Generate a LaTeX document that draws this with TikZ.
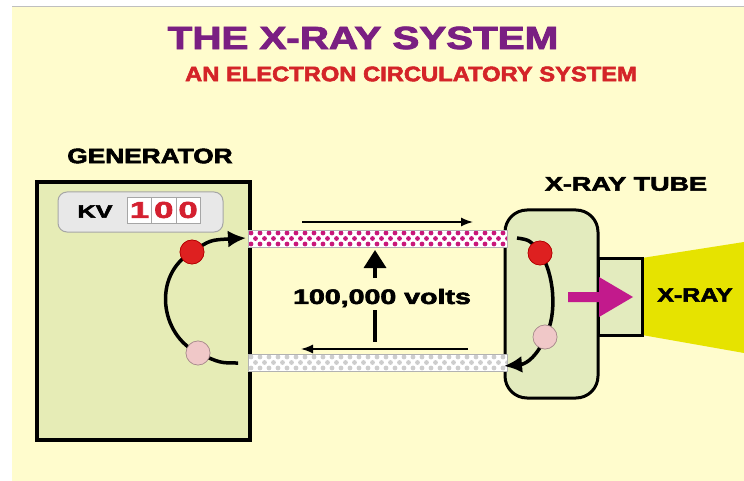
\documentclass[tikz,border=0pt]{standalone}
\usepackage{fontspec}
\usepackage{graphicx}
\usetikzlibrary{arrows.meta}
\newfontfamily\hv{Liberation Sans Bold}[FakeBold=2.5]
\newcommand{\wt}[3]{\scalebox{#1}[1]{\hv\fontsize{#2}{#2}\selectfont #3}}
\definecolor{bgyel}{HTML}{FFFCCD}
\definecolor{boxgreen}{HTML}{E6ECB6}
\definecolor{tubegreen}{HTML}{E3EBBE}
\definecolor{beamyel}{HTML}{E6E300}
\definecolor{ttlpurple}{HTML}{7A1F82}
\definecolor{subred}{HTML}{D42428}
\definecolor{dotmag}{HTML}{C8187A}
\definecolor{dotgrey}{HTML}{CDCDCD}
\definecolor{redball}{HTML}{DE2020}
\definecolor{pinkball}{HTML}{F0C8C8}
\definecolor{magarrow}{HTML}{C21A8C}
\definecolor{kvgrey}{HTML}{E8E8E8}
\definecolor{digred}{HTML}{D42030}
\tikzset{
  wire/.style={line width=3.5pt, black},
  thinarrow/.style={line width=1.5pt, -{Latex[length=12pt,width=9pt]}},
  redball/.style={circle, minimum size=24pt, inner sep=0pt, fill=redball, draw=red!70!black, line width=0.6pt},
  pinkball/.style={circle, minimum size=24pt, inner sep=0pt, fill=pinkball, draw=pinkball!70!black, line width=0.6pt},
  cell/.style={draw=gray!70, fill=white, line width=0.6pt, minimum width=24.3pt, minimum height=26pt, inner sep=0pt},
  txt/.style={inner sep=0pt, outer sep=0pt, anchor=center}
}
\begin{document}
\begin{tikzpicture}[x=1pt, y=-1pt]
\useasboundingbox (0,0) rectangle (744,481);
\fill[white] (0,0) rectangle (744,481);
\fill[bgyel] (12,6) rectangle (744,481);
\draw[gray!50, line width=0.8pt] (12,6) -- (744,6);

% titles
\node[txt, text=ttlpurple] (title) at (363,38) {\wt{1.26}{32}{THE X-RAY SYSTEM}};
\node[txt, text=subred] (subtitle) at (411,74) {\wt{1.13}{21}{AN ELECTRON CIRCULATORY SYSTEM}};
\node[txt] (genlabel) at (150,156) {\wt{1.25}{21}{GENERATOR}};
\node[txt] (tubelabel) at (626,184) {\wt{1.38}{19.5}{X-RAY TUBE}};

% generator
\draw[line width=3.5pt, fill=boxgreen] (37,182) rectangle (250,440);
\node[draw=gray!70, fill=kvgrey, rounded corners=9pt, line width=1pt, minimum width=165pt, minimum height=40pt, inner sep=0pt] (kvbox) at (140.5,212) {};
\node[txt] (kv) at (95,211.5) {\wt{1.4}{18}{KV}};
\node[cell] (c1) at (139.5,210) {};
\node[cell] (c2) at (163.8,210) {};
\node[cell] (c3) at (188.1,210) {};
\node[txt, text=digred] (d1) at (c1) {\wt{1.5}{23}{1}};
\node[txt, text=digred] (d2) at (c2) {\wt{1.5}{23}{0}};
\node[txt, text=digred] (d3) at (c3) {\wt{1.5}{23}{0}};

% x-ray beam and tube
\fill[beamyel] (642,258) -- (744,242) -- (744,353) -- (642,335) -- cycle;
\draw[line width=3pt, fill=tubegreen] (598,258) rectangle (642,335);
\draw[line width=3pt, fill=tubegreen, rounded corners=22pt] (505,210) rectangle (598,398);
\node[txt] (xray) at (695,295) {\wt{1.28}{19.5}{X-RAY}};

% conductors
\begin{scope}
  \clip (248,230) rectangle (507,247);
  \fill[white] (248,230) rectangle (507,247);
  \foreach \i in {0,...,28} {
    \fill[dotmag] (251+9*\i,233) circle (2.4);
    \fill[dotmag] (251+9*\i,244) circle (2.4);
    \fill[dotmag] (255.5+9*\i,238.5) circle (2.4);
  }
\end{scope}
\draw[gray!60, line width=0.8pt] (248,230) rectangle (507,247);
\begin{scope}
  \clip (248,354) rectangle (507,371);
  \fill[white] (248,354) rectangle (507,371);
  \foreach \i in {0,...,28} {
    \fill[dotgrey] (251+9*\i,357) circle (2.4);
    \fill[dotgrey] (251+9*\i,368) circle (2.4);
    \fill[dotgrey] (255.5+9*\i,362.5) circle (2.4);
  }
\end{scope}
\draw[gray!60, line width=0.8pt] (248,354) rectangle (507,371);

% generator circuit
\coordinate (gEnd) at (238,363);
\coordinate (gTip) at (246,238);
\node[pinkball] (pg) at (198,353) {};
\node[redball] (rg) at (192,252) {};
\draw[wire, -{Latex[length=18pt,width=17pt]}] (gEnd) .. controls (220,363) .. (pg.center) .. controls (160,335) and (152,275) .. (rg.center) .. controls (210,240) .. (gTip);
\node[pinkball] at (pg) {};
\node[redball] at (rg) {};

% tube circuit
\coordinate (tStart) at (517,238);
\coordinate (tTip) at (504,366);
\node[redball] (rt) at (540,253) {};
\node[pinkball] (pt) at (545,337) {};
\draw[wire, -{Latex[length=18pt,width=17pt]}] (tStart) .. controls (530,240) .. (rt.center) .. controls (554,272) and (558,315) .. (pt.center) .. controls (538,355) and (527,364) .. (tTip);
\node[redball] at (rt) {};
\node[pinkball] at (pt) {};

% magenta arrow
\fill[magarrow] (568,292) -- (599,292) -- (599,277) -- (633,297) -- (599,317) -- (599,302) -- (568,302) -- cycle;

% current arrows
\coordinate (ta1) at (302,222);
\coordinate (ta2) at (473,222);
\draw[thinarrow] (ta1) -- (ta2);
\coordinate (ba1) at (468,349);
\coordinate (ba2) at (301,349);
\draw[thinarrow] (ba1) -- (ba2);

% voltage label and arrows
\node[txt] (volts) at (382,298) {\wt{1.36}{21}{100,000 volts}};
\coordinate (upTip) at (375,250);
\coordinate (upBase) at (375,278);
\draw[line width=3.5pt, -{Triangle[length=18pt,width=22pt]}] (upBase) -- (upTip);
\coordinate (vl1) at (375,310);
\coordinate (vl2) at (375,342);
\draw[line width=3.5pt] (vl1) -- (vl2);
\end{tikzpicture}
\end{document}
